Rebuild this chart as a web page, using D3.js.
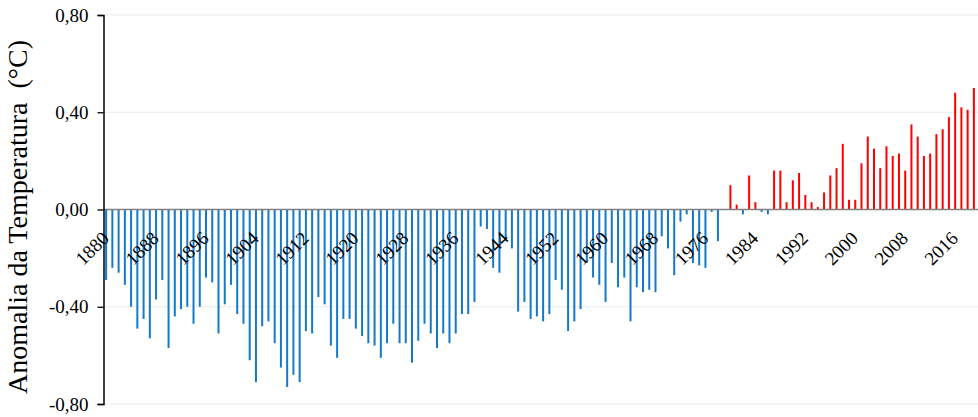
<!DOCTYPE html>
<html>
<head>
<meta charset="utf-8">
<script src="https://cdn.jsdelivr.net/npm/d3@7"></script>
<style>
  html, body { margin: 0; padding: 0; background: #fff; }
  svg { display: block; }
  text { font-family: "Liberation Serif", "Times New Roman", serif; fill: #000; }
</style>
</head>
<body>
<svg id="chart" width="978" height="417"></svg>
<script>
// ---- data ----
const startYear = 1880;
const anomalies = [
  -0.29, -0.24, -0.26, -0.31, -0.40, -0.49, -0.45, -0.53, -0.37, -0.29,
  -0.57, -0.44, -0.41, -0.40, -0.47, -0.40, -0.28, -0.30, -0.51, -0.39,
  -0.31, -0.43, -0.47, -0.62, -0.71, -0.48, -0.46, -0.55, -0.65, -0.73,
  -0.68, -0.71, -0.50, -0.51, -0.36, -0.39, -0.56, -0.61, -0.45, -0.45,
  -0.49, -0.52, -0.55, -0.56, -0.61, -0.55, -0.47, -0.55, -0.55, -0.63,
  -0.54, -0.47, -0.51, -0.57, -0.51, -0.55, -0.51, -0.43, -0.43, -0.38,
  -0.07, -0.08, -0.24, -0.26, -0.12, -0.16, -0.42, -0.38, -0.45, -0.44,
  -0.46, -0.43, -0.29, -0.33, -0.50, -0.46, -0.41, -0.22, -0.28, -0.31,
  -0.38, -0.22, -0.32, -0.28, -0.46, -0.32, -0.34, -0.33, -0.34, -0.11,
  -0.16, -0.27, -0.05, -0.02, -0.22, -0.23, -0.24, -0.01, -0.13, 0.00,
   0.10,  0.02, -0.02,  0.14,  0.03, -0.01, -0.02,  0.16,  0.16,  0.03,
   0.12,  0.15,  0.06,  0.03,  0.01,  0.07,  0.14,  0.17,  0.27,  0.04,
   0.04,  0.19,  0.30,  0.25,  0.17,  0.26,  0.22,  0.23,  0.16,  0.35,
   0.30,  0.22,  0.23,  0.31,  0.33,  0.38,  0.48,  0.42,  0.41,  0.50
];
const years = anomalies.map((_, i) => startYear + i);
const yTicks = [-0.8, -0.4, 0, 0.4, 0.8];
const xTickYears = [1880, 1888, 1896, 1904, 1912, 1920, 1928, 1936, 1944, 1952, 1960, 1968, 1976, 1984, 1992, 2000, 2008, 2016];
const yTitle = "Anomalia da Temperatura  (°C)";

// ---- layout ----
const svg = d3.select("#chart");
const mLeft = 103.5, mRight = 978, mTop = 15, mBottom = 404;

const x = d3.scaleBand().domain(years).range([103, 977]).paddingInner(0.68).paddingOuter(0.34);
const y = d3.scaleLinear().domain([-0.8, 0.8]).range([mBottom, mTop]);

const fmt = v => d3.format(".2f")(v).replace(".", ",").replace("−", "-");

// gridlines
svg.append("g")
  .selectAll("line")
  .data(yTicks.filter(v => v !== 0))
  .join("line")
  .attr("x1", mLeft).attr("x2", mRight)
  .attr("y1", d => y(d)).attr("y2", d => y(d))
  .attr("stroke", "#ebebeb").attr("stroke-width", 1.2);

// bars
svg.append("g")
  .selectAll("rect")
  .data(years.map((yr, i) => ({ yr, v: anomalies[i] })))
  .join("rect")
  .attr("x", d => x(d.yr))
  .attr("width", x.bandwidth())
  .attr("y", d => y(Math.max(0, d.v)))
  .attr("height", d => Math.abs(y(d.v) - y(0)))
  .attr("fill", d => d.v >= 0 ? "#ff0000" : "#1479c9");

// zero axis (x axis)
const xAxis = d3.axisBottom(x).tickValues(xTickYears).tickSize(0).tickPadding(0);
const gx = svg.append("g").attr("transform", `translate(0,${y(0)})`).call(xAxis);
gx.select(".domain").attr("stroke", "#808080").attr("stroke-width", 1.6)
  .attr("d", `M${mLeft},0H${mRight}`);
gx.selectAll(".tick text")
  .attr("font-family", "Liberation Serif, serif")
  .attr("font-size", 19)
  .attr("fill", "#000")
  .attr("text-anchor", "end")
  .attr("dy", null)
  .attr("y", 0)
  .attr("transform", "translate(4,30) rotate(-45)");

// y axis
const yAxis = d3.axisLeft(y).tickValues(yTicks).tickFormat(fmt).tickSize(6).tickPadding(9);
const gy = svg.append("g").attr("transform", `translate(${mLeft},0)`).call(yAxis);
gy.select(".domain").attr("stroke", "#000").attr("stroke-width", 1.5);
gy.selectAll(".tick line").attr("stroke", "#000").attr("stroke-width", 1.3);
gy.selectAll(".tick text")
  .attr("font-family", "Liberation Serif, serif")
  .attr("font-size", 19)
  .attr("fill", "#000");

// y title
svg.append("text")
  .attr("transform", `translate(27,217) rotate(-90)`)
  .attr("text-anchor", "middle")
  .attr("font-size", 28)
  .style("white-space", "pre")
  .text(yTitle);
</script>
</body>
</html>
